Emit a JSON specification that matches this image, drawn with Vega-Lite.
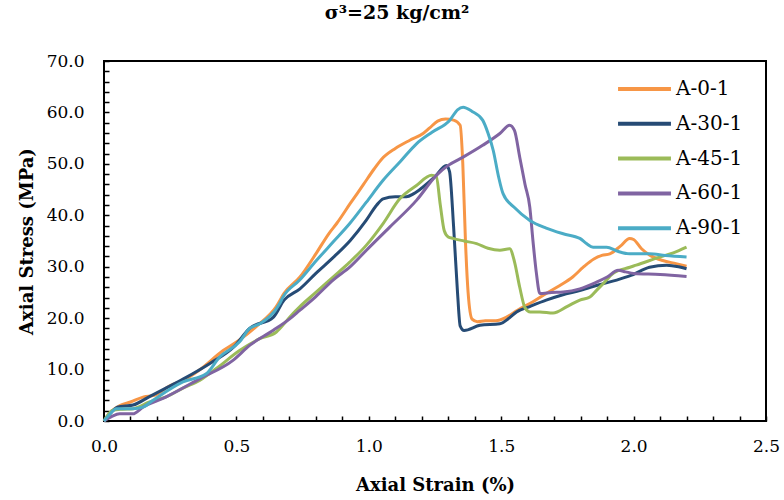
{
  "$schema": "https://vega.github.io/schema/vega-lite/v6.json",
  "width": 662,
  "height": 360,
  "autosize": {"type": "none"},
  "padding": {"left": 104, "top": 61, "right": 18, "bottom": 79},
  "background": "white",
  "config": {
    "view": {"stroke": "#000", "strokeWidth": 2},
    "font": "DejaVu Serif",
    "axis": {"zindex": 1}
  },
  "title": {
    "text": "σ³=25 kg/cm²",
    "font": "DejaVu Serif",
    "fontSize": 19,
    "fontWeight": "bold",
    "color": "#000",
    "anchor": "middle",
    "frame": "group",
    "dx": -38,
    "offset": 29
  },
  "data": {
    "values": [
      {"series": "A-0-1", "strain": 0, "stress": 0},
      {"series": "A-0-1", "strain": 0.03, "stress": 2.0},
      {"series": "A-0-1", "strain": 0.06, "stress": 3.0},
      {"series": "A-0-1", "strain": 0.10, "stress": 3.7},
      {"series": "A-0-1", "strain": 0.15, "stress": 4.7},
      {"series": "A-0-1", "strain": 0.19, "stress": 5.0},
      {"series": "A-0-1", "strain": 0.25, "stress": 6.9},
      {"series": "A-0-1", "strain": 0.30, "stress": 7.9},
      {"series": "A-0-1", "strain": 0.36, "stress": 9.9},
      {"series": "A-0-1", "strain": 0.45, "stress": 13.7},
      {"series": "A-0-1", "strain": 0.51, "stress": 15.7},
      {"series": "A-0-1", "strain": 0.58, "stress": 18.6},
      {"series": "A-0-1", "strain": 0.65, "stress": 22.2},
      {"series": "A-0-1", "strain": 0.68, "stress": 24.8},
      {"series": "A-0-1", "strain": 0.74, "stress": 28.0},
      {"series": "A-0-1", "strain": 0.80, "stress": 32.5},
      {"series": "A-0-1", "strain": 0.85, "stress": 36.5},
      {"series": "A-0-1", "strain": 0.88, "stress": 38.5},
      {"series": "A-0-1", "strain": 0.93, "stress": 42.3},
      {"series": "A-0-1", "strain": 0.98, "stress": 46.0},
      {"series": "A-0-1", "strain": 1.02, "stress": 49.0},
      {"series": "A-0-1", "strain": 1.05, "stress": 51.0},
      {"series": "A-0-1", "strain": 1.10, "stress": 53.0},
      {"series": "A-0-1", "strain": 1.155, "stress": 54.6},
      {"series": "A-0-1", "strain": 1.205, "stress": 55.9},
      {"series": "A-0-1", "strain": 1.23, "stress": 57.0},
      {"series": "A-0-1", "strain": 1.26, "stress": 58.3},
      {"series": "A-0-1", "strain": 1.29, "stress": 58.7},
      {"series": "A-0-1", "strain": 1.32, "stress": 58.5},
      {"series": "A-0-1", "strain": 1.345, "stress": 57.5},
      {"series": "A-0-1", "strain": 1.355, "stress": 50.0},
      {"series": "A-0-1", "strain": 1.365, "stress": 35.0},
      {"series": "A-0-1", "strain": 1.375, "stress": 25.0},
      {"series": "A-0-1", "strain": 1.39, "stress": 19.8},
      {"series": "A-0-1", "strain": 1.41, "stress": 19.3},
      {"series": "A-0-1", "strain": 1.44, "stress": 19.5},
      {"series": "A-0-1", "strain": 1.48, "stress": 19.5},
      {"series": "A-0-1", "strain": 1.52, "stress": 20.2},
      {"series": "A-0-1", "strain": 1.56, "stress": 21.5},
      {"series": "A-0-1", "strain": 1.62, "stress": 23.2},
      {"series": "A-0-1", "strain": 1.67, "stress": 24.8},
      {"series": "A-0-1", "strain": 1.72, "stress": 26.3},
      {"series": "A-0-1", "strain": 1.77, "stress": 28.0},
      {"series": "A-0-1", "strain": 1.81, "stress": 29.9},
      {"series": "A-0-1", "strain": 1.85, "stress": 31.5},
      {"series": "A-0-1", "strain": 1.88, "stress": 32.2},
      {"series": "A-0-1", "strain": 1.91, "stress": 32.5},
      {"series": "A-0-1", "strain": 1.95, "stress": 34.0},
      {"series": "A-0-1", "strain": 1.985, "stress": 35.5},
      {"series": "A-0-1", "strain": 2.00, "stress": 35.3},
      {"series": "A-0-1", "strain": 2.03, "stress": 33.5},
      {"series": "A-0-1", "strain": 2.06, "stress": 32.3},
      {"series": "A-0-1", "strain": 2.11, "stress": 31.2},
      {"series": "A-0-1", "strain": 2.16, "stress": 30.6},
      {"series": "A-0-1", "strain": 2.20, "stress": 30.1},

      {"series": "A-30-1", "strain": 0, "stress": 0},
      {"series": "A-30-1", "strain": 0.03, "stress": 1.8},
      {"series": "A-30-1", "strain": 0.05, "stress": 2.7},
      {"series": "A-30-1", "strain": 0.11, "stress": 3.1},
      {"series": "A-30-1", "strain": 0.17, "stress": 4.7},
      {"series": "A-30-1", "strain": 0.23, "stress": 6.3},
      {"series": "A-30-1", "strain": 0.30, "stress": 8.2},
      {"series": "A-30-1", "strain": 0.40, "stress": 11.2},
      {"series": "A-30-1", "strain": 0.49, "stress": 14.4},
      {"series": "A-30-1", "strain": 0.55, "stress": 18.0},
      {"series": "A-30-1", "strain": 0.64, "stress": 20.2},
      {"series": "A-30-1", "strain": 0.68, "stress": 23.5},
      {"series": "A-30-1", "strain": 0.74, "stress": 25.7},
      {"series": "A-30-1", "strain": 0.80, "stress": 28.7},
      {"series": "A-30-1", "strain": 0.87, "stress": 32.0},
      {"series": "A-30-1", "strain": 0.93, "stress": 35.1},
      {"series": "A-30-1", "strain": 0.99, "stress": 39.0},
      {"series": "A-30-1", "strain": 1.03, "stress": 42.0},
      {"series": "A-30-1", "strain": 1.054, "stress": 43.2},
      {"series": "A-30-1", "strain": 1.10, "stress": 43.6},
      {"series": "A-30-1", "strain": 1.142, "stress": 43.6},
      {"series": "A-30-1", "strain": 1.17, "stress": 44.2},
      {"series": "A-30-1", "strain": 1.205, "stress": 45.5},
      {"series": "A-30-1", "strain": 1.25, "stress": 47.5},
      {"series": "A-30-1", "strain": 1.293, "stress": 49.7},
      {"series": "A-30-1", "strain": 1.305, "stress": 48.5},
      {"series": "A-30-1", "strain": 1.32, "stress": 38.0},
      {"series": "A-30-1", "strain": 1.335, "stress": 25.0},
      {"series": "A-30-1", "strain": 1.345, "stress": 18.5},
      {"series": "A-30-1", "strain": 1.36, "stress": 17.6},
      {"series": "A-30-1", "strain": 1.42, "stress": 18.6},
      {"series": "A-30-1", "strain": 1.495, "stress": 18.9},
      {"series": "A-30-1", "strain": 1.53, "stress": 20.0},
      {"series": "A-30-1", "strain": 1.558, "stress": 21.2},
      {"series": "A-30-1", "strain": 1.61, "stress": 22.3},
      {"series": "A-30-1", "strain": 1.67, "stress": 23.5},
      {"series": "A-30-1", "strain": 1.73, "stress": 24.5},
      {"series": "A-30-1", "strain": 1.80, "stress": 25.4},
      {"series": "A-30-1", "strain": 1.87, "stress": 26.5},
      {"series": "A-30-1", "strain": 1.936, "stress": 27.4},
      {"series": "A-30-1", "strain": 1.99, "stress": 28.3},
      {"series": "A-30-1", "strain": 2.06, "stress": 29.9},
      {"series": "A-30-1", "strain": 2.125, "stress": 30.3},
      {"series": "A-30-1", "strain": 2.17, "stress": 30.0},
      {"series": "A-30-1", "strain": 2.20, "stress": 29.6},

      {"series": "A-45-1", "strain": 0, "stress": 0},
      {"series": "A-45-1", "strain": 0.033, "stress": 2.1},
      {"series": "A-45-1", "strain": 0.07, "stress": 2.3},
      {"series": "A-45-1", "strain": 0.11, "stress": 2.4},
      {"series": "A-45-1", "strain": 0.172, "stress": 3.7},
      {"series": "A-45-1", "strain": 0.235, "stress": 4.7},
      {"series": "A-45-1", "strain": 0.298, "stress": 6.4},
      {"series": "A-45-1", "strain": 0.361, "stress": 7.9},
      {"series": "A-45-1", "strain": 0.424, "stress": 10.2},
      {"series": "A-45-1", "strain": 0.512, "stress": 13.7},
      {"series": "A-45-1", "strain": 0.588, "stress": 16.0},
      {"series": "A-45-1", "strain": 0.651, "stress": 17.3},
      {"series": "A-45-1", "strain": 0.69, "stress": 19.5},
      {"series": "A-45-1", "strain": 0.714, "stress": 20.9},
      {"series": "A-45-1", "strain": 0.739, "stress": 22.2},
      {"series": "A-45-1", "strain": 0.80, "stress": 25.0},
      {"series": "A-45-1", "strain": 0.865, "stress": 28.0},
      {"series": "A-45-1", "strain": 0.928, "stress": 30.9},
      {"series": "A-45-1", "strain": 0.991, "stress": 34.2},
      {"series": "A-45-1", "strain": 1.054, "stress": 38.4},
      {"series": "A-45-1", "strain": 1.117, "stress": 43.2},
      {"series": "A-45-1", "strain": 1.18, "stress": 45.8},
      {"series": "A-45-1", "strain": 1.237, "stress": 47.8},
      {"series": "A-45-1", "strain": 1.255, "stress": 47.5},
      {"series": "A-45-1", "strain": 1.27, "stress": 42.0},
      {"series": "A-45-1", "strain": 1.285, "stress": 37.0},
      {"series": "A-45-1", "strain": 1.30, "stress": 35.8},
      {"series": "A-45-1", "strain": 1.318, "stress": 35.5},
      {"series": "A-45-1", "strain": 1.36, "stress": 35.0},
      {"series": "A-45-1", "strain": 1.407, "stress": 34.5},
      {"series": "A-45-1", "strain": 1.45, "stress": 33.6},
      {"series": "A-45-1", "strain": 1.495, "stress": 33.2},
      {"series": "A-45-1", "strain": 1.532, "stress": 33.5},
      {"series": "A-45-1", "strain": 1.55, "stress": 31.0},
      {"series": "A-45-1", "strain": 1.57, "stress": 26.0},
      {"series": "A-45-1", "strain": 1.59, "stress": 22.0},
      {"series": "A-45-1", "strain": 1.61, "stress": 21.2},
      {"series": "A-45-1", "strain": 1.646, "stress": 21.2},
      {"series": "A-45-1", "strain": 1.696, "stress": 21.0},
      {"series": "A-45-1", "strain": 1.75, "stress": 22.3},
      {"series": "A-45-1", "strain": 1.797, "stress": 23.5},
      {"series": "A-45-1", "strain": 1.835, "stress": 24.1},
      {"series": "A-45-1", "strain": 1.86, "stress": 25.4},
      {"series": "A-45-1", "strain": 1.885, "stress": 26.7},
      {"series": "A-45-1", "strain": 1.923, "stress": 28.7},
      {"series": "A-45-1", "strain": 1.986, "stress": 29.9},
      {"series": "A-45-1", "strain": 2.01, "stress": 30.3},
      {"series": "A-45-1", "strain": 2.10, "stress": 31.9},
      {"series": "A-45-1", "strain": 2.15, "stress": 32.7},
      {"series": "A-45-1", "strain": 2.20, "stress": 33.8},

      {"series": "A-60-1", "strain": 0, "stress": 0},
      {"series": "A-60-1", "strain": 0.03, "stress": 0.9},
      {"series": "A-60-1", "strain": 0.059, "stress": 1.4},
      {"series": "A-60-1", "strain": 0.109, "stress": 1.4},
      {"series": "A-60-1", "strain": 0.147, "stress": 2.7},
      {"series": "A-60-1", "strain": 0.235, "stress": 4.7},
      {"series": "A-60-1", "strain": 0.361, "stress": 8.2},
      {"series": "A-60-1", "strain": 0.487, "stress": 11.8},
      {"series": "A-60-1", "strain": 0.55, "stress": 14.7},
      {"series": "A-60-1", "strain": 0.638, "stress": 17.6},
      {"series": "A-60-1", "strain": 0.70, "stress": 19.8},
      {"series": "A-60-1", "strain": 0.739, "stress": 21.5},
      {"series": "A-60-1", "strain": 0.80, "stress": 24.2},
      {"series": "A-60-1", "strain": 0.865, "stress": 27.4},
      {"series": "A-60-1", "strain": 0.93, "stress": 30.0},
      {"series": "A-60-1", "strain": 0.991, "stress": 33.2},
      {"series": "A-60-1", "strain": 1.079, "stress": 37.7},
      {"series": "A-60-1", "strain": 1.18, "stress": 42.9},
      {"series": "A-60-1", "strain": 1.256, "stress": 47.8},
      {"series": "A-60-1", "strain": 1.30, "stress": 49.7},
      {"series": "A-60-1", "strain": 1.356, "stress": 51.3},
      {"series": "A-60-1", "strain": 1.43, "stress": 53.6},
      {"series": "A-60-1", "strain": 1.495, "stress": 55.9},
      {"series": "A-60-1", "strain": 1.532, "stress": 57.5},
      {"series": "A-60-1", "strain": 1.55, "stress": 56.5},
      {"series": "A-60-1", "strain": 1.57, "stress": 51.3},
      {"series": "A-60-1", "strain": 1.59, "stress": 46.0},
      {"series": "A-60-1", "strain": 1.608, "stress": 41.6},
      {"series": "A-60-1", "strain": 1.62, "stress": 35.0},
      {"series": "A-60-1", "strain": 1.633, "stress": 28.7},
      {"series": "A-60-1", "strain": 1.646, "stress": 24.8},
      {"series": "A-60-1", "strain": 1.69, "stress": 25.0},
      {"series": "A-60-1", "strain": 1.734, "stress": 25.1},
      {"series": "A-60-1", "strain": 1.797, "stress": 25.7},
      {"series": "A-60-1", "strain": 1.86, "stress": 27.0},
      {"series": "A-60-1", "strain": 1.90, "stress": 28.0},
      {"series": "A-60-1", "strain": 1.942, "stress": 29.3},
      {"series": "A-60-1", "strain": 1.97, "stress": 29.0},
      {"series": "A-60-1", "strain": 2.00, "stress": 28.7},
      {"series": "A-60-1", "strain": 2.10, "stress": 28.5},
      {"series": "A-60-1", "strain": 2.20, "stress": 28.1},

      {"series": "A-90-1", "strain": 0, "stress": 0},
      {"series": "A-90-1", "strain": 0.02, "stress": 1.2},
      {"series": "A-90-1", "strain": 0.046, "stress": 2.4},
      {"series": "A-90-1", "strain": 0.109, "stress": 2.4},
      {"series": "A-90-1", "strain": 0.147, "stress": 2.7},
      {"series": "A-90-1", "strain": 0.184, "stress": 4.0},
      {"series": "A-90-1", "strain": 0.298, "stress": 7.6},
      {"series": "A-90-1", "strain": 0.386, "stress": 9.2},
      {"series": "A-90-1", "strain": 0.436, "stress": 12.4},
      {"series": "A-90-1", "strain": 0.512, "stress": 15.4},
      {"series": "A-90-1", "strain": 0.55, "stress": 18.0},
      {"series": "A-90-1", "strain": 0.588, "stress": 18.9},
      {"series": "A-90-1", "strain": 0.663, "stress": 22.8},
      {"series": "A-90-1", "strain": 0.676, "stress": 24.1},
      {"series": "A-90-1", "strain": 0.739, "stress": 27.4},
      {"series": "A-90-1", "strain": 0.802, "stress": 31.2},
      {"series": "A-90-1", "strain": 0.865, "stress": 34.8},
      {"series": "A-90-1", "strain": 0.928, "stress": 38.4},
      {"series": "A-90-1", "strain": 0.99, "stress": 42.5},
      {"series": "A-90-1", "strain": 1.054, "stress": 46.8},
      {"series": "A-90-1", "strain": 1.12, "stress": 50.5},
      {"series": "A-90-1", "strain": 1.18, "stress": 53.9},
      {"series": "A-90-1", "strain": 1.24, "stress": 56.2},
      {"series": "A-90-1", "strain": 1.306, "stress": 58.5},
      {"series": "A-90-1", "strain": 1.335, "stress": 60.5},
      {"series": "A-90-1", "strain": 1.356, "stress": 61.0},
      {"series": "A-90-1", "strain": 1.39, "stress": 60.2},
      {"series": "A-90-1", "strain": 1.43, "stress": 58.5},
      {"series": "A-90-1", "strain": 1.45, "stress": 56.0},
      {"series": "A-90-1", "strain": 1.47, "stress": 52.6},
      {"series": "A-90-1", "strain": 1.49, "stress": 47.5},
      {"series": "A-90-1", "strain": 1.507, "stress": 44.2},
      {"series": "A-90-1", "strain": 1.55, "stress": 41.5},
      {"series": "A-90-1", "strain": 1.608, "stress": 39.0},
      {"series": "A-90-1", "strain": 1.67, "stress": 37.5},
      {"series": "A-90-1", "strain": 1.734, "stress": 36.4},
      {"series": "A-90-1", "strain": 1.797, "stress": 35.5},
      {"series": "A-90-1", "strain": 1.822, "stress": 34.5},
      {"series": "A-90-1", "strain": 1.847, "stress": 33.8},
      {"series": "A-90-1", "strain": 1.898, "stress": 33.8},
      {"series": "A-90-1", "strain": 1.94, "stress": 33.0},
      {"series": "A-90-1", "strain": 1.986, "stress": 32.5},
      {"series": "A-90-1", "strain": 2.06, "stress": 32.5},
      {"series": "A-90-1", "strain": 2.12, "stress": 32.2},
      {"series": "A-90-1", "strain": 2.20, "stress": 31.9}
    ]
  },
  "mark": {"type": "line", "strokeWidth": 3, "interpolate": "monotone"},
  "encoding": {
    "x": {
      "field": "strain",
      "type": "quantitative",
      "scale": {"domain": [0, 2.5], "nice": false, "zero": true},
      "axis": {
        "title": "Axial Strain (%)",
        "titleFont": "DejaVu Serif",
        "titleFontSize": 18,
        "titleFontWeight": "bold",
        "titleColor": "#000",
        "titlePadding": 22,
        "offset": -5,
        "domain": false,
        "values": [0, 0.1, 0.2, 0.3, 0.4, 0.5, 0.6, 0.7, 0.8, 0.9, 1.0, 1.1, 1.2, 1.3, 1.4, 1.5, 1.6, 1.7, 1.8, 1.9, 2.0, 2.1, 2.2, 2.3, 2.4, 2.5],
        "labelExpr": "abs(datum.value * 2 - round(datum.value * 2)) < 0.001 ? format(datum.value, '.1f') : ''",
        "labelFont": "DejaVu Serif",
        "labelFontSize": 17,
        "labelColor": "#000",
        "labelPadding": 17,
        "labelFlush": false,
        "labelOverlap": false,
        "grid": false,
        "ticks": true,
        "tickColor": "#000",
        "tickWidth": 1.5,
        "tickSize": 5
      }
    },
    "y": {
      "field": "stress",
      "type": "quantitative",
      "scale": {"domain": [0, 70], "nice": false},
      "axis": {
        "title": "Axial Stress (MPa)",
        "titleFont": "DejaVu Serif",
        "titleFontSize": 18,
        "titleFontWeight": "bold",
        "titleColor": "#000",
        "titlePadding": 10,
        "offset": -5,
        "domain": false,
        "values": [0, 2, 4, 6, 8, 10, 12, 14, 16, 18, 20, 22, 24, 26, 28, 30, 32, 34, 36, 38, 40, 42, 44, 46, 48, 50, 52, 54, 56, 58, 60, 62, 64, 66, 68, 70],
        "labelExpr": "datum.value % 10 == 0 ? format(datum.value, '.1f') : ''",
        "labelFont": "DejaVu Serif",
        "labelFontSize": 17,
        "labelColor": "#000",
        "labelPadding": 20,
        "labelFlush": false,
        "labelOverlap": false,
        "grid": false,
        "ticks": true,
        "tickColor": "#000",
        "tickWidth": 1.5,
        "tickSize": 5
      }
    },
    "color": {
      "field": "series",
      "type": "nominal",
      "scale": {
        "domain": ["A-0-1", "A-30-1", "A-45-1", "A-60-1", "A-90-1"],
        "range": ["#F79646", "#264B75", "#9BBB59", "#8064A2", "#4BACC6"]
      },
      "legend": {
        "title": null,
        "orient": "none",
        "legendX": 512,
        "legendY": 18,
        "symbolType": "stroke",
        "symbolSize": 2800,
        "symbolStrokeWidth": 4,
        "clipHeight": 20,
        "rowPadding": 14.8,
        "labelFont": "DejaVu Serif",
        "labelFontSize": 20,
        "labelColor": "#000",
        "labelOffset": 3,
        "padding": 0
      }
    }
  }
}
